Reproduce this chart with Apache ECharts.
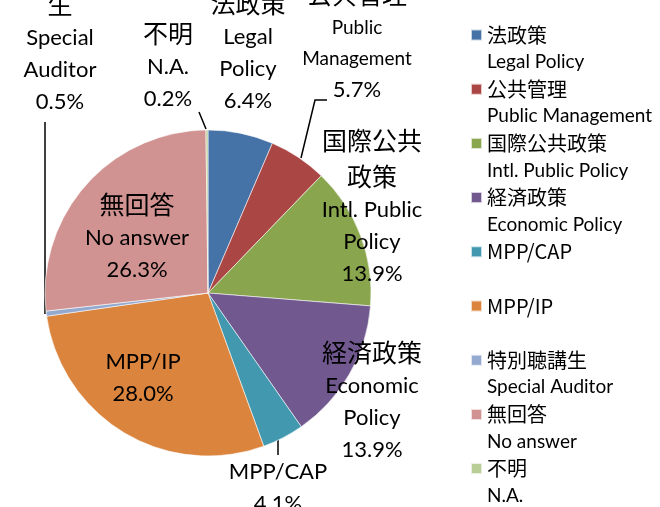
<!DOCTYPE html>
<html>
<head>
<meta charset="utf-8">
<script src="https://cdn.jsdelivr.net/npm/echarts@6/dist/echarts.min.js"></script>
<style>
  html, body { margin: 0; padding: 0; background: #fff; }
  #chart { width: 660px; height: 507px; }
</style>
</head>
<body>
<div id="chart"></div>
<script>
// 回答の内訳 (%)
const namesJa = ['法政策', '公共管理', '国際公共政策', '経済政策', 'MPP/CAP', 'MPP/IP', '特別聴講生', '無回答', '不明']
const namesEn = ['Legal Policy', 'Public Management', 'Intl. Public Policy', 'Economic Policy', '', '', 'Special Auditor', 'No answer', 'N.A.']
const values = [6.4, 5.7, 13.9, 13.9, 4.1, 28.0, 0.5, 26.3, 0.2]
// labels on the pie wrap differently from the legend
const labelJa = ['法政策', '', '国際公共\n政策', '経済政策', '', '', '特別聴講\n生', '無回答', '不明']
const labelEn = ['Legal\nPolicy', '', 'Intl. Public\nPolicy', 'Economic\nPolicy', 'MPP/CAP', 'MPP/IP', 'Special\nAuditor', 'No answer', 'N.A.']
const labelSmall = ['', 'Public\nManagement', '', '', '', '', '', '', '']
const labelJaTop = ['', '公共管理', '', '', '', '', '', '', '']

const colors = ['#4572A7', '#AA4643', '#89A54E', '#71588F', '#4198AF', '#DB843D', '#93A9CF', '#D19392', '#B9CD96']

// label placement (center x, top y) and leader lines
const labelPos = [[248, -15], [357, -24], [372, 122], [372, 334], [278, 456], [143, 346], [60, -50], [137, 186], [168, 15]]
const leaders = {
  1: [[301, 158], [315, 100], [327, 100]],
  4: [[278, 440], [278, 455], [278, 455]],
  6: [[45, 314], [45, 122], [45, 122]],
  8: [[206, 129], [199, 112], [199, 112]]
}

const latin = 'Lato, "Noto Sans CJK JP", sans-serif'
const cjk = '"Noto Sans CJK JP", sans-serif'

const myChart = echarts.init(document.getElementById('chart'), null, { renderer: 'canvas' })

const seriesData = values.map((v, i) => ({
  name: namesJa[i],
  value: v,
  itemStyle: { color: colors[i] },
  labelLine: { show: !!leaders[i] }
}))

function wrap(style, text) {
  if (!text) return []
  return text.split('\n').map(t => '{' + style + '|' + t + '}')
}

const option = {
  animation: false,
  legend: {
    orient: 'vertical',
    left: 465,
    top: 20,
    height: 600,
    itemWidth: 11,
    itemHeight: 11,
    itemGap: 7.7,
    icon: 'rect',
    selectedMode: false,
    formatter: function (name) {
      const i = namesJa.indexOf(name)
      return '{c|' + name + '}\n{e|' + (namesEn[i] || ' ') + '}'
    },
    textStyle: {
      padding: [27, 0, 0, 0],
      color: '#000',
      rich: {
        c: { fontFamily: cjk, fontSize: 20, lineHeight: 27, color: '#000' },
        e: { fontFamily: latin, fontSize: 19, lineHeight: 27, color: '#000' }
      }
    }
  },
  series: [
    {
      type: 'pie',
      center: [208, 293],
      radius: 163,
      startAngle: 90,
      clockwise: true,
      avoidLabelOverlap: false,
      itemStyle: {
        borderColor: 'rgba(255,255,255,0.7)',
        borderWidth: 0.8
      },
      label: {
        show: true,
        position: 'outside',
        color: '#000',
        formatter: function (p) {
          const i = p.dataIndex
          const lines = [].concat(
            wrap('c', labelJaTop[i]),
            wrap('s', labelSmall[i]),
            wrap('c', labelJa[i]),
            wrap('e', labelEn[i]),
            ['{e|' + values[i].toFixed(1) + '%}']
          )
          return lines.join('\n')
        },
        rich: {
          c: { fontFamily: cjk, fontSize: 25, lineHeight: 36, color: '#000' },
          e: { fontFamily: latin, fontSize: 22, lineHeight: 32, color: '#000' },
          s: { fontFamily: latin, fontSize: 19, lineHeight: 31, color: '#000' }
        }
      },
      labelLine: {
        lineStyle: { color: '#000', width: 1.5 }
      },
      labelLayout: function (params) {
        const i = params.dataIndex
        const res = {
          x: labelPos[i][0],
          y: labelPos[i][1],
          align: 'center',
          verticalAlign: 'top'
        }
        if (leaders[i]) {
          res.labelLinePoints = leaders[i]
        }
        return res
      },
      data: seriesData
    }
  ]
}
myChart.setOption(option)
</script>
</body>
</html>
